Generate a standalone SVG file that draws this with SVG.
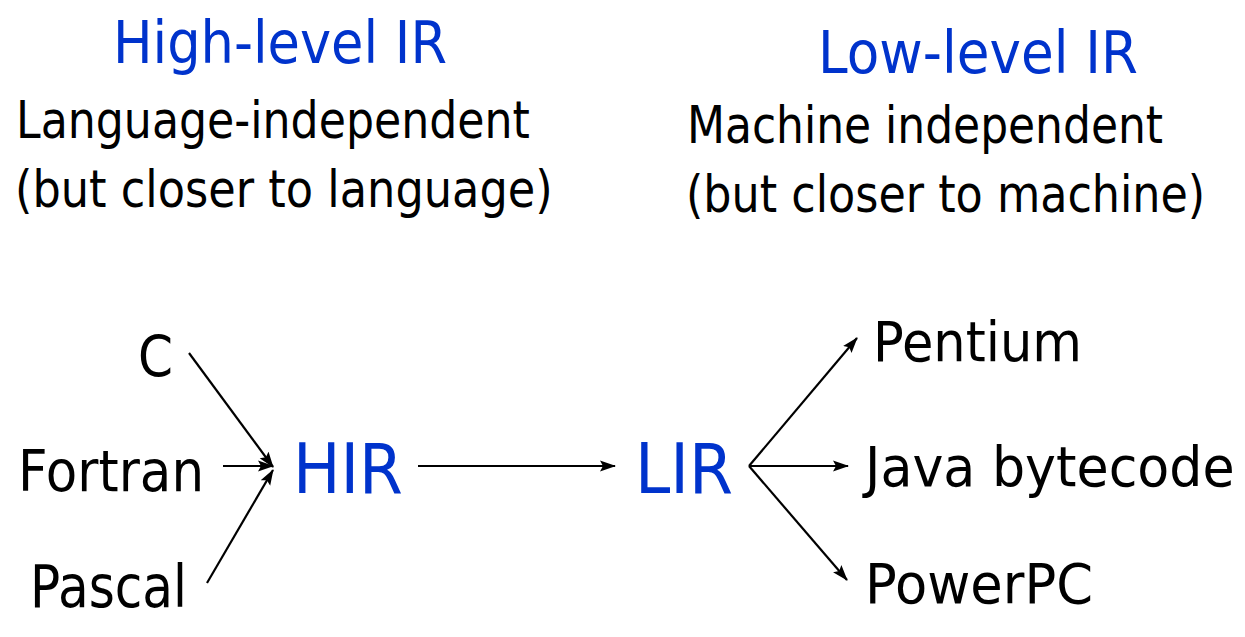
<svg xmlns="http://www.w3.org/2000/svg" width="1245" height="637" viewBox="0 0 1245 637">
<style>
text{font-family:"DejaVu Sans",sans-serif}
.blue{fill:#0033cc}
.blk{fill:#000}
.conn line{stroke:#000;stroke-width:2.2;fill:none}
</style>
<defs>
<marker id="ah" markerUnits="userSpaceOnUse" markerWidth="16" markerHeight="12" refX="15" refY="6" orient="auto">
<path d="M0,0.5 L16,6 L0,11.5 L3,6 z" fill="#000"/>
</marker>
</defs>
<rect width="1245" height="637" fill="#fff"/>
<g id="header-high">
<text class="blue" transform="translate(113,63) scale(0.88,1)" font-size="58" textLength="379.5" lengthAdjust="spacingAndGlyphs">High-level IR</text>
<text class="blk" transform="translate(16,138) scale(0.88,1)" font-size="51" textLength="584" lengthAdjust="spacingAndGlyphs">Language-independent</text>
<text class="blk" transform="translate(15,207) scale(0.88,1)" font-size="51" textLength="611" lengthAdjust="spacingAndGlyphs">(but closer to language)</text>
</g>
<g id="header-low">
<text class="blue" transform="translate(818,73) scale(0.88,1)" font-size="58" textLength="363.6" lengthAdjust="spacingAndGlyphs">Low-level IR</text>
<text class="blk" transform="translate(687,143) scale(0.88,1)" font-size="51" textLength="541" lengthAdjust="spacingAndGlyphs">Machine independent</text>
<text class="blk" transform="translate(686,212) scale(0.88,1)" font-size="51" textLength="590" lengthAdjust="spacingAndGlyphs">(but closer to machine)</text>
</g>
<g id="node-c"><text class="blk" transform="translate(138,377) scale(0.88,1)" font-size="57" textLength="39.8" lengthAdjust="spacingAndGlyphs">C</text></g>
<g id="node-fortran"><text class="blk" transform="translate(18,491) scale(0.88,1)" font-size="57" textLength="211.4" lengthAdjust="spacingAndGlyphs">Fortran</text></g>
<g id="node-pascal"><text class="blk" transform="translate(30,607) scale(0.88,1)" font-size="58" textLength="178.4" lengthAdjust="spacingAndGlyphs">Pascal</text></g>
<g id="node-hir"><text class="blue" transform="translate(293,493) scale(0.88,1)" font-size="69" textLength="125" lengthAdjust="spacingAndGlyphs">HIR</text></g>
<g id="node-lir"><text class="blue" transform="translate(635,493) scale(0.88,1)" font-size="69" textLength="111.4" lengthAdjust="spacingAndGlyphs">LIR</text></g>
<g id="node-pentium"><text class="blk" transform="translate(873,361) scale(0.88,1)" font-size="55" textLength="237.5" lengthAdjust="spacingAndGlyphs">Pentium</text></g>
<g id="node-java"><text class="blk" transform="translate(865,486) scale(0.88,1)" font-size="55" textLength="420" lengthAdjust="spacingAndGlyphs">Java bytecode</text></g>
<g id="node-powerpc"><text class="blk" transform="translate(865,603) scale(0.88,1)" font-size="55" textLength="259.1" lengthAdjust="spacingAndGlyphs">PowerPC</text></g>
<g id="connectors" class="conn">
<line x1="189" y1="353" x2="273" y2="467" marker-end="url(#ah)"/>
<line x1="223" y1="466" x2="273" y2="466" marker-end="url(#ah)"/>
<line x1="207" y1="583" x2="273" y2="470" marker-end="url(#ah)"/>
<line x1="418" y1="466" x2="615" y2="466" marker-end="url(#ah)"/>
<line x1="749" y1="466" x2="857" y2="338" marker-end="url(#ah)"/>
<line x1="749" y1="466" x2="848" y2="466" marker-end="url(#ah)"/>
<line x1="749" y1="466" x2="847" y2="580" marker-end="url(#ah)"/>
</g>
</svg>
